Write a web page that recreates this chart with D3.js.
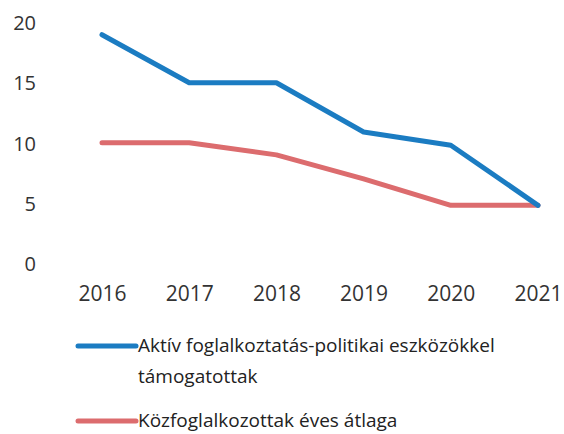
<!DOCTYPE html>
<html>
<head>
<meta charset="utf-8">
<script src="https://cdn.jsdelivr.net/npm/d3@7"></script>
<style>
  html, body { margin: 0; padding: 0; background: #fff; }
  svg { display: block; }
</style>
</head>
<body>
<div class="chart"></div>
<script>
// 데이터
const years = ['2016', '2017', '2018', '2019', '2020', '2021'];
const aktiv = [19, 15, 15, 10.9, 9.8, 4.8];
const kozfogl = [10, 10, 9, 7, 4.8, 4.8];
const yTicks = [0, 5, 10, 15, 20];
const seriesNames = ['Aktív foglalkoztatás-politikai eszközökkel', 'támogatottak', 'Közfoglalkozottak éves átlaga'];
const colors = ['#1b7cc2', '#dc6c6e'];

const W = 564, H = 434;
const FontFamily = '"Open Sans", sans-serif';

const svg = d3.select('.chart')
  .append('svg')
  .attr('width', W)
  .attr('height', H);

const x = d3.scalePoint().domain(years).range([102, 538]);
const y = d3.scaleLinear().domain([0, 20]).range([263, 22.7]);

// y 축
const yAxis = svg.append('g')
  .attr('transform', 'translate(36,0)')
  .call(d3.axisLeft(y).tickValues(yTicks).tickSize(0).tickPadding(0));
yAxis.select('.domain').remove();
yAxis.selectAll('text')
  .attr('font-family', FontFamily)
  .attr('font-size', '20px')
  .attr('fill', '#333')
  .attr('dy', '0.36em');

// x 축
const xAxis = svg.append('g')
  .call(d3.axisBottom(x).tickSize(0).tickPadding(0));
xAxis.select('.domain').remove();
xAxis.selectAll('text')
  .attr('font-family', FontFamily)
  .attr('font-size', '21px')
  .attr('fill', '#333')
  .attr('y', 300.5)
  .attr('dy', 0);

// 선
const line = d3.line()
  .x((d, i) => x(years[i]))
  .y(d => y(d));

[kozfogl, aktiv].forEach((s, k) => {
  svg.append('path')
    .datum(s)
    .attr('d', line)
    .attr('fill', 'none')
    .attr('stroke', colors[1 - k])
    .attr('stroke-width', 5)
    .attr('stroke-linejoin', 'round')
    .attr('stroke-linecap', 'round');
});

// 범례
const legend = svg.append('g').attr('class', 'legend');
const legendRows = [
  {color: colors[0], ly: 346, lines: [[seriesNames[0], 352], [seriesNames[1], 383]]},
  {color: colors[1], ly: 421, lines: [[seriesNames[2], 427]]}
];

legendRows.forEach(r => {
  legend.append('line')
    .attr('x1', 78).attr('x2', 136)
    .attr('y1', r.ly).attr('y2', r.ly)
    .attr('stroke', r.color)
    .attr('stroke-width', 5)
    .attr('stroke-linecap', 'round');
  r.lines.forEach(([t, by]) => {
    legend.append('text')
      .attr('x', 138)
      .attr('y', by)
      .attr('font-family', FontFamily)
      .attr('font-size', '19px')
      .attr('fill', '#222')
      .text(t);
  });
});

// 너비 맞추기 (첫 줄 기준으로 압축 비율 계산)
const texts = legend.selectAll('text').nodes();
const natural = texts[0].getComputedTextLength();
const ratio = Math.min(1, 397 / natural);
texts.forEach(n => {
  const len = n.getComputedTextLength();
  if (ratio < 1) {
    d3.select(n)
      .attr('textLength', len * ratio)
      .attr('lengthAdjust', 'spacingAndGlyphs');
  }
});
</script>
</body>
</html>
